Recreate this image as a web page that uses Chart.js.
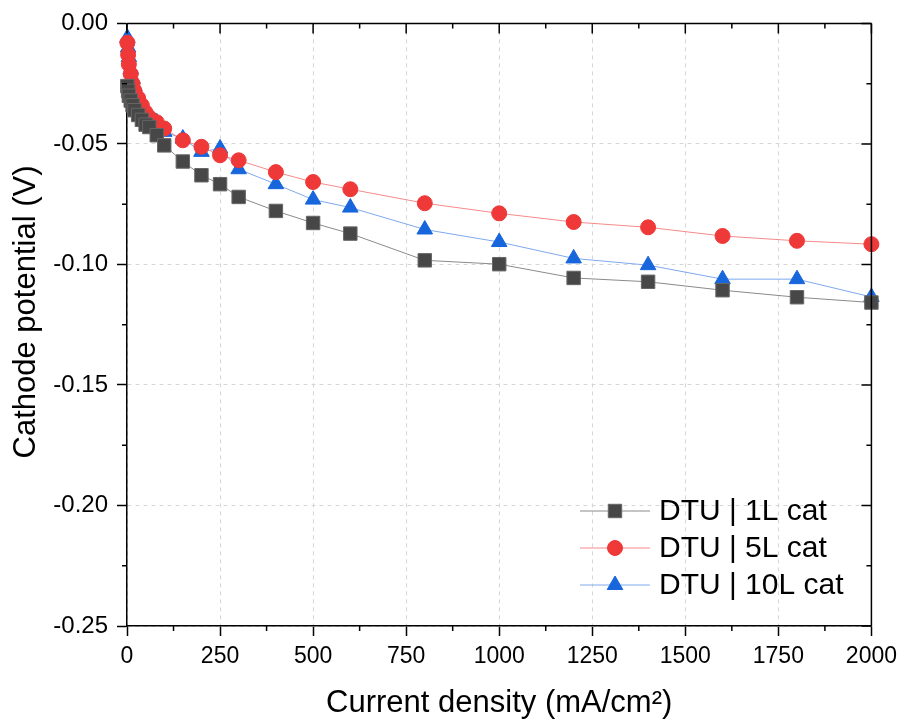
<!DOCTYPE html>
<html>
<head>
<meta charset="utf-8">
<script src="https://cdn.jsdelivr.net/npm/chart.js@4/dist/chart.umd.min.js"></script>
<style>
  body { margin: 0; background: #fff; }
  #wrap { width: 904px; height: 722px; }
</style>
</head>
<body>
<div id="wrap"><canvas id="chart" width="904" height="722"></canvas></div>
<script>
// current density (mA/cm2)
const currentDensity = [1, 3, 5, 10, 15, 20, 30, 40, 50, 60, 80, 100, 150, 200, 250, 300, 400, 500, 600, 800, 1000, 1200, 1400, 1600, 1800, 2000];

// cathode potential (V)
const dtu1L = [-0.026, -0.028, -0.030, -0.032, -0.034, -0.036, -0.038, -0.040, -0.042, -0.043, -0.0464, -0.0506, -0.0573, -0.063, -0.0667, -0.072, -0.0778, -0.0828, -0.0872, -0.0983, -0.0999, -0.1056, -0.1072, -0.1107, -0.1136, -0.1158];
const dtu5L = [-0.008, -0.013, -0.017, -0.021, -0.025, -0.028, -0.031, -0.034, -0.037, -0.039, -0.041, -0.0436, -0.0485, -0.0512, -0.0547, -0.0568, -0.0617, -0.0658, -0.0688, -0.0746, -0.0788, -0.0824, -0.0846, -0.0882, -0.0902, -0.0916];
const dtu10L = [-0.006, -0.010, -0.014, -0.019, -0.023, -0.026, -0.030, -0.033, -0.036, -0.038, -0.041, -0.045, -0.0478, -0.0533, -0.0519, -0.0605, -0.0667, -0.0731, -0.0764, -0.0855, -0.0907, -0.0975, -0.1003, -0.1061, -0.1061, -0.1135];

const seriesLabels = ['DTU | 1L cat', 'DTU | 5L cat', 'DTU | 10L cat'];
const xTitle = 'Current density (mA/cm\u00B2)';
const yTitle = 'Cathode potential (V)';

const FONT = '"Liberation Sans", Arial, sans-serif';
const toPoints = (ys) => currentDensity.map((x, i) => ({ x: x, y: ys[i] }));

// frame on top/right, mirrored + minor ticks, y title
const framePlugin = {
  id: 'frame',
  afterDraw(chart) {
    const ctx = chart.ctx;
    const a = chart.chartArea;
    const xs = chart.scales.x;
    const ys = chart.scales.y;
    ctx.save();
    ctx.strokeStyle = '#000';
    ctx.lineWidth = 1.5;
    ctx.beginPath();
    ctx.moveTo(a.left, a.top); ctx.lineTo(a.right, a.top);
    ctx.moveTo(a.right, a.top); ctx.lineTo(a.right, a.bottom);
    ctx.stroke();
    ctx.beginPath();
    for (let v = 0; v <= 2000; v += 125) {
      const px = xs.getPixelForValue(v);
      const major = v % 250 === 0;
      const len = major ? 10 : 5;
      if (!major) { ctx.moveTo(px, a.bottom); ctx.lineTo(px, a.bottom + len); }
      ctx.moveTo(px, a.top); ctx.lineTo(px, a.top + len);
    }
    for (let k = 0; k <= 10; k++) {
      const v = -0.025 * k;
      const py = ys.getPixelForValue(v);
      const major = k % 2 === 0;
      const len = major ? 10 : 5;
      if (!major) { ctx.moveTo(a.left, py); ctx.lineTo(a.left - len, py); }
      ctx.moveTo(a.right, py); ctx.lineTo(a.right - len, py);
    }
    ctx.stroke();

    // y axis title
    ctx.translate(26, 312);
    ctx.rotate(-Math.PI / 2);
    ctx.fillStyle = '#000';
    ctx.font = '31px ' + FONT;
    ctx.textAlign = 'center';
    ctx.textBaseline = 'middle';
    ctx.fillText(yTitle, 0, 0);
    ctx.restore();
  }
};

// legend inside the plot, bottom right
const legendPlugin = {
  id: 'insideLegend',
  afterDraw(chart) {
    const ctx = chart.ctx;
    const x0 = 580, x1 = 650, tx = 659;
    const rows = [511, 548, 585];
    ctx.save();
    chart.data.datasets.forEach((ds, i) => {
      const y = rows[i];
      ctx.strokeStyle = ds.borderColor;
      ctx.lineWidth = ds.borderWidth;
      ctx.beginPath();
      ctx.moveTo(x0, y); ctx.lineTo(x1, y);
      ctx.stroke();
      ctx.fillStyle = ds.pointBackgroundColor;
      ctx.strokeStyle = ds.pointBorderColor;
      ctx.lineWidth = ds.pointBorderWidth;
      Chart.helpers.drawPoint(ctx, {
        pointStyle: ds.pointStyle, radius: ds.pointRadius, borderWidth: ds.pointBorderWidth, rotation: 0
      }, (x0 + x1) / 2, y);
      ctx.fillStyle = '#000';
      ctx.font = '30px ' + FONT;
      ctx.textBaseline = 'middle';
      ctx.textAlign = 'left';
      ctx.fillText(ds.label, tx, y + 1);
    });
    ctx.restore();
  }
};

new Chart(document.getElementById('chart'), {
  type: 'line',
  data: {
    datasets: [
      {
        label: seriesLabels[0],
        data: toPoints(dtu1L),
        borderColor: '#8a8a8a',
        borderWidth: 1,
        pointStyle: 'rect',
        pointRadius: 9.5,
        pointBackgroundColor: '#474747',
        pointBorderColor: '#666666',
        pointBorderWidth: 1
      },
      {
        label: seriesLabels[1],
        data: toPoints(dtu5L),
        borderColor: '#f78a8a',
        borderWidth: 1,
        pointStyle: 'circle',
        pointRadius: 7.5,
        pointBackgroundColor: '#ef3838',
        pointBorderColor: '#ef3838',
        pointBorderWidth: 1
      },
      {
        label: seriesLabels[2],
        data: toPoints(dtu10L),
        borderColor: '#7fa9ee',
        borderWidth: 1,
        pointStyle: 'triangle',
        pointRadius: 9,
        pointBackgroundColor: '#1766dc',
        pointBorderColor: '#1766dc',
        pointBorderWidth: 1
      }
    ]
  },
  options: {
    responsive: false,
    animation: false,
    clip: false,
    layout: { padding: { left: 0, top: 23, right: 31, bottom: 0 } },
    plugins: {
      legend: { display: false },
      tooltip: { enabled: false }
    },
    scales: {
      x: {
        type: 'linear',
        min: 0,
        max: 2000,
        afterFit: (s) => { s.height = 96; },
        ticks: {
          stepSize: 250,
          color: '#000',
          font: { family: FONT, size: 23 },
          padding: 7,
          maxRotation: 0,
          callback: (v) => String(v)
        },
        grid: {
          color: '#d6d6d6',
          lineWidth: 1,
          tickLength: 10,
          tickColor: '#000',
          tickWidth: 1.5
        },
        border: { display: true, color: '#000', width: 1.5, dash: [4, 4] },
        title: {
          display: true,
          text: xTitle,
          color: '#000',
          font: { family: FONT, size: 31 },
          padding: { top: 0, bottom: 0 }
        }
      },
      y: {
        type: 'linear',
        min: -0.25,
        max: 0,
        afterFit: (s) => { s.width = 127; },
        ticks: {
          stepSize: 0.05,
          color: '#000',
          font: { family: FONT, size: 24 },
          padding: 9,
          callback: (v) => Number(v).toFixed(2)
        },
        grid: {
          color: '#d6d6d6',
          lineWidth: 1,
          tickLength: 10,
          tickColor: '#000',
          tickWidth: 1.5
        },
        border: { display: true, color: '#000', width: 1.5, dash: [4, 4] },
        title: { display: false }
      }
    }
  },
  plugins: [framePlugin, legendPlugin]
});
</script>
</body>
</html>
